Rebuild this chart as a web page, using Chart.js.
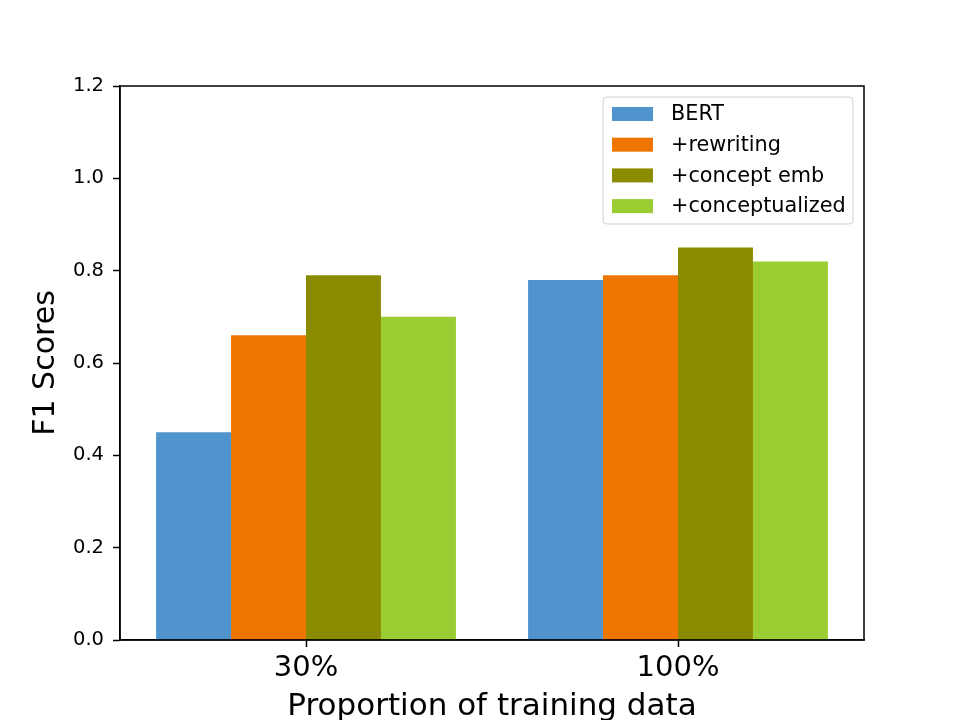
<!DOCTYPE html>
<html>
<head>
<meta charset="utf-8">
<script src="https://cdn.jsdelivr.net/npm/chart.js@4/dist/chart.umd.min.js"></script>
<style>
  html, body { margin: 0; padding: 0; background: #fff; }
  #wrap { width: 960px; height: 720px; }
</style>
</head>
<body>
<div id="wrap"><canvas id="chart" width="960" height="720"></canvas></div>
<script>
const categories = ["30%", "100%"];
const seriesNames = ["BERT", "+rewriting", "+concept emb", "+conceptualized"];
const bertScores = [0.45, 0.78];
const rewritingScores = [0.66, 0.79];
const conceptEmbScores = [0.79, 0.85];
const conceptualizedScores = [0.70, 0.82];
const yTicks = [0, 0.2, 0.4, 0.6, 0.8, 1.0, 1.2];

const colors = ["#4f94cd", "#ee7600", "#8b8b00", "#9acd32"];
const FONT = "'DejaVu Sans', sans-serif";

// legend drawn inside the plot, top right, like matplotlib
const boxLegend = {
  id: "boxLegend",
  afterDraw(chart) {
    const { ctx } = chart;
    const x = 603, y = 97, w = 250, h = 127, r = 4;
    ctx.save();
    ctx.beginPath();
    ctx.roundRect(x, y, w, h, r);
    ctx.fillStyle = "rgba(255,255,255,0.8)";
    ctx.fill();
    ctx.strokeStyle = "#d0d0d0";
    ctx.lineWidth = 1;
    ctx.stroke();
    ctx.font = "20.8px " + FONT;
    ctx.textBaseline = "middle";
    chart.data.datasets.forEach((ds, i) => {
      const cy = 114 + i * 30.7;
      ctx.fillStyle = ds.backgroundColor;
      ctx.fillRect(612, cy - 7, 41, 14);
      ctx.fillStyle = "#000";
      ctx.fillText(ds.label, 671, cy + 1);
    });
    ctx.restore();
  },
};

// top and right spines
const frame = {
  id: "frame",
  afterDraw(chart) {
    const { ctx, chartArea: a } = chart;
    ctx.save();
    ctx.strokeStyle = "#000";
    ctx.lineWidth = 1.5;
    ctx.strokeRect(a.left, a.top, a.right - a.left, a.bottom - a.top);
    ctx.restore();
  },
};

const seriesValues = [bertScores, rewritingScores, conceptEmbScores, conceptualizedScores];

new Chart(document.getElementById("chart"), {
  type: "bar",
  data: {
    labels: categories,
    datasets: seriesNames.map((name, i) => ({
      label: name,
      data: seriesValues[i],
      backgroundColor: colors[i],
      borderWidth: 0,
      categoryPercentage: 0.806,
      barPercentage: 1.0,
    })),
  },
  options: {
    responsive: false,
    animation: false,
    devicePixelRatio: 1,
    layout: { padding: { top: 86, right: 96, left: 0, bottom: 0 } },
    plugins: {
      legend: { display: false },
      tooltip: { enabled: false },
    },
    scales: {
      x: {
        afterFit: (s) => { s.height = 80; },
        grid: {
          offset: false,
          drawOnChartArea: false,
          tickLength: 7,
          tickColor: "#000",
          tickWidth: 1.5,
        },
        border: { color: "#000", width: 1.5 },
        ticks: {
          color: "#000",
          padding: 4,
          font: { family: FONT, size: 29 },
        },
        title: {
          display: true,
          text: "Proportion of training data",
          color: "#000",
          font: { family: FONT, size: 31, lineHeight: 0.85 },
          padding: { top: 0, bottom: 0 },
        },
      },
      y: {
        min: 0,
        max: 1.2,
        afterFit: (s) => { s.width = 120; },
        afterBuildTicks: (s) => { s.ticks = yTicks.map((v) => ({ value: v })); },
        grid: {
          drawOnChartArea: false,
          tickLength: 7,
          tickColor: "#000",
          tickWidth: 1.5,
        },
        border: { color: "#000", width: 1.5 },
        ticks: {
          color: "#000",
          padding: 9,
          font: { family: FONT, size: 19.5 },
          callback: (v) => Number(v).toFixed(1),
        },
        title: {
          display: true,
          text: "F1 Scores",
          color: "#000",
          font: { family: FONT, size: 30, lineHeight: 1.2 },
          padding: { top: 28, bottom: 0 },
        },
      },
    },
  },
  plugins: [boxLegend, frame],
});
</script>
</body>
</html>
